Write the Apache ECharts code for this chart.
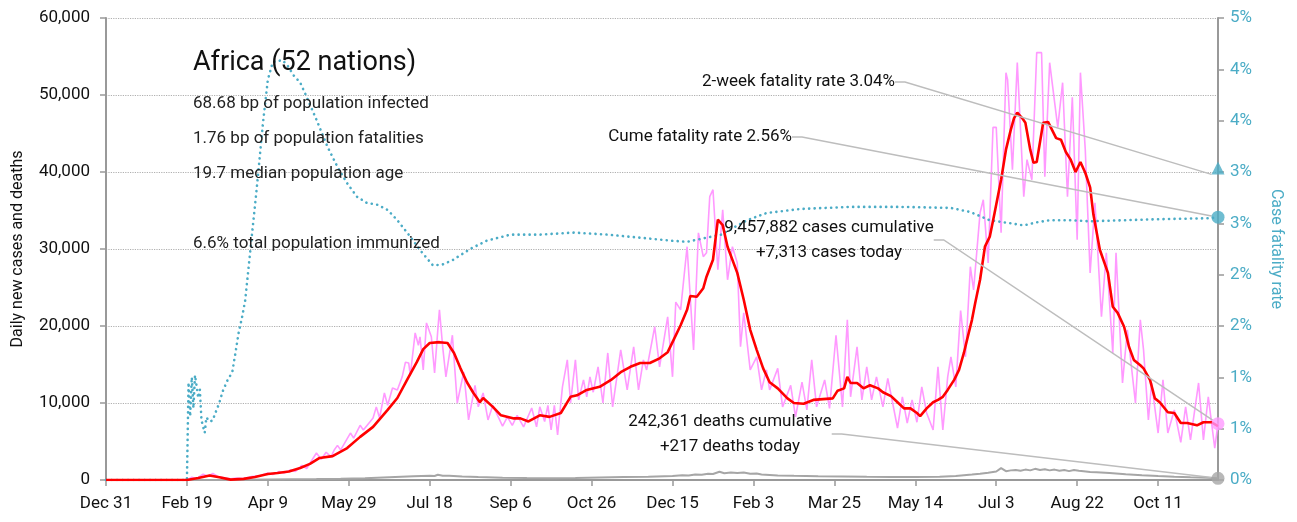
<!DOCTYPE html>
<html>
<head>
<meta charset="utf-8">
<script src="https://cdn.jsdelivr.net/npm/echarts@6/dist/echarts.min.js"></script>
<style>
  html, body { margin: 0; padding: 0; background: #fff; }
  #chart { width: 1297px; height: 522px; }
</style>
</head>
<body>
<div id="chart"></div>
<script>
// Africa COVID-19: daily cases, 7-day average, daily deaths and case fatality rate.
// x values are days counted from Dec 31, 2019.
const START_UTC = Date.UTC(2019, 11, 31);
const LAST_DAY = 687;
const MONTHS = ['Jan','Feb','Mar','Apr','May','Jun','Jul','Aug','Sep','Oct','Nov','Dec'];

const dailyCases = [[0,0],[50,0],[53,350],[56,200],[60,750],[63,500],[66,850],[69,450],[73,300],[77,150],[81,250],[85,200],[90,450],[95,550],[100,900],[103,700],[107,1100],[110,900],[114,1300],[117,1100],[121,1900],[124,1500],[127,2500],[130,3500],[133,2700],[136,3600],[139,3000],[141,3900],[143,4500],[145,3900],[151,6100],[153,5450],[157,7100],[159,6500],[165,8050],[167,9500],[169,8050],[172,11300],[174,9700],[177,11950],[180,11700],[183,13400],[185,15300],[187,15200],[188,13600],[191,19100],[193,17500],[194,18600],[196,14300],[198,20400],[201,18600],[203,13900],[205,19500],[206,22100],[208,17300],[210,13400],[214,18800],[217,10000],[221,14000],[224,7800],[228,12300],[230,9500],[233,11300],[236,7800],[239,9700],[245,7000],[248,8200],[251,7100],[254,8400],[258,6900],[263,9350],[266,6900],[268,9500],[271,7600],[273,9700],[275,6500],[277,9700],[279,5850],[282,12100],[285,15600],[287,10000],[290,15600],[292,10400],[295,13000],[297,10800],[299,13400],[301,11400],[304,14700],[307,10000],[310,16500],[313,9500],[318,16900],[322,11700],[326,17300],[329,11700],[332,15600],[334,14300],[339,19900],[342,14700],[347,21200],[350,13400],[352,23100],[355,22100],[359,30300],[363,16900],[366,32100],[369,29000],[371,29500],[373,36800],[375,37700],[378,27300],[381,35100],[384,26000],[387,30300],[390,28200],[392,17300],[394,21700],[398,14300],[402,16000],[405,11700],[408,14300],[410,11700],[415,14500],[418,9500],[423,12300],[426,8200],[430,12700],[433,9100],[436,15600],[439,9500],[444,13000],[447,9300],[451,18800],[455,9500],[458,20800],[460,10800],[464,17300],[467,10400],[470,14700],[473,10400],[476,13400],[480,9500],[483,13200],[486,10000],[489,6750],[492,10800],[495,7400],[498,10400],[501,7500],[504,12100],[507,8700],[511,6500],[514,14700],[517,6500],[520,13400],[522,16000],[525,12100],[528,22000],[531,16000],[534,27700],[536,24700],[540,34700],[542,36400],[545,28200],[548,45800],[550,45800],[553,32100],[556,52900],[557,52000],[560,40300],[563,54200],[567,36800],[569,41600],[572,39000],[575,55500],[578,55500],[580,39400],[583,54200],[588,45800],[591,51600],[594,36800],[597,49700],[600,31200],[602,52900],[605,42900],[608,26900],[611,36000],[615,21200],[618,29500],[622,16500],[624,29500],[628,12600],[631,19500],[636,10000],[639,20800],[641,16900],[644,7800],[646,12600],[650,6100],[653,13000],[656,6100],[660,9100],[664,4900],[667,9500],[670,5200],[675,12600],[678,5200],[681,10800],[685,4150],[687,7313]];

const weeklyAverage = [[0,0],[50,0],[57,250],[64,580],[70,350],[77,50],[85,150],[92,400],[100,780],[106,900],[113,1100],[120,1560],[126,2100],[132,2860],[140,3100],[149,4150],[157,5600],[165,6900],[174,9100],[180,10650],[186,13000],[192,15300],[196,17000],[200,17800],[206,17900],[211,17800],[215,16500],[219,14500],[223,12700],[227,11300],[231,10100],[233,10650],[239,9500],[244,8400],[252,8000],[256,8000],[261,7600],[268,8400],[274,8200],[281,8700],[287,10800],[291,11000],[297,11700],[305,12100],[312,13000],[318,14000],[324,14700],[330,15200],[336,15200],[342,15800],[347,16600],[350,17900],[355,20100],[359,22100],[361,23900],[365,23800],[369,24900],[371,26400],[375,28600],[378,33800],[381,33100],[384,30300],[390,26900],[394,23400],[398,19500],[402,16900],[406,14500],[410,12700],[415,11900],[421,10600],[425,10000],[431,9900],[437,10400],[443,10500],[449,10600],[452,11600],[456,11900],[458,13400],[460,12600],[464,12600],[468,11900],[472,12300],[477,11900],[480,11400],[485,10900],[489,10100],[493,9300],[497,9300],[501,8700],[503,8300],[507,9300],[511,10100],[514,10400],[517,10800],[520,11700],[524,13000],[527,14300],[530,16500],[533,19100],[535,20800],[537,23000],[540,26000],[543,30300],[546,31600],[549,34700],[553,39000],[556,42900],[559,45500],[561,47000],[563,47700],[566,47000],[568,46400],[571,42900],[573,41200],[575,41300],[579,46400],[582,46500],[583,46400],[587,44400],[590,44200],[593,42600],[596,41600],[599,40000],[602,41300],[605,39900],[608,38000],[610,34500],[614,29900],[619,26900],[622,22500],[625,21700],[629,19900],[632,17300],[635,15600],[639,14900],[641,14500],[645,13000],[648,10600],[651,10100],[656,8800],[660,8700],[664,7400],[668,7400],[674,7100],[678,7500],[683,7500],[687,7000]];

const dailyDeaths = [[0,0],[55,0],[70,10],[85,30],[100,60],[115,90],[130,120],[145,170],[160,240],[175,360],[190,480],[200,560],[203,520],[205,680],[208,540],[212,560],[220,470],[230,380],[245,300],[260,250],[275,230],[290,260],[305,330],[320,380],[335,430],[350,520],[356,620],[360,580],[364,720],[368,680],[372,800],[375,780],[379,1080],[382,880],[386,960],[390,900],[394,980],[398,800],[402,840],[405,720],[415,600],[425,540],[440,480],[455,450],[470,420],[485,400],[500,380],[515,420],[525,520],[535,700],[540,820],[545,950],[550,1100],[553,1550],[556,1150],[559,1250],[562,1300],[565,1200],[568,1350],[571,1250],[574,1450],[577,1300],[580,1400],[583,1250],[586,1350],[589,1200],[592,1300],[595,1150],[598,1300],[601,1200],[604,1150],[608,1050],[612,1000],[620,900],[630,750],[640,620],[650,520],[660,430],[670,350],[680,300],[687,217]];

// case fatality rate, percent
const fatalityRate = [[0,0],[50,0],[51,0.95],[52,0.62],[53,1.0],[54,0.7],[55,1.02],[56,1.03],[57,0.8],[58,0.88],[59,0.58],[60,0.52],[61,0.46],[62,0.61],[64,0.57],[66,0.58],[67,0.63],[70,0.75],[72,0.86],[75,0.97],[78,1.05],[80,1.24],[82,1.44],[84,1.58],[86,1.75],[89,2.21],[93,2.82],[97,3.48],[100,3.90],[103,4.07],[109,4.09],[112,4.04],[116,3.94],[120,3.87],[124,3.73],[130,3.51],[137,3.24],[143,3.05],[149,2.89],[155,2.76],[161,2.70],[168,2.68],[174,2.63],[180,2.53],[188,2.37],[194,2.24],[202,2.09],[208,2.10],[214,2.14],[221,2.21],[225,2.25],[235,2.33],[250,2.39],[268,2.39],[289,2.41],[310,2.39],[330,2.36],[350,2.33],[359,2.32],[371,2.36],[380,2.39],[388,2.46],[396,2.53],[408,2.60],[429,2.64],[460,2.66],[491,2.66],[522,2.65],[534,2.61],[546,2.53],[559,2.50],[567,2.48],[575,2.51],[583,2.53],[596,2.53],[608,2.52],[629,2.53],[650,2.54],[682,2.55],[687,2.56]];

const twoWeekRate = 3.04;
const cumeRate = 2.56;
const casesCumulative = 9457882;
const casesToday = 7313;
const deathsCumulative = 242361;
const deathsToday = 217;

const infoLines = [
  '68.68 bp of population infected',
  '1.76 bp of population fatalities',
  '19.7 median population age',
  '',
  '6.6% total population immunized'
];

const FONT = "Roboto, 'Liberation Sans', sans-serif";
const TEAL = '#4bacc6';
const PINK = '#ff99ff';
const GREY = '#a6a6a6';
const LEADER = '#bdbdbd';
const INK = '#111';

const fmt = n => n.toLocaleString('en-US');
const dayLabel = v => {
  const d = new Date(START_UTC + v * 86400000);
  return MONTHS[d.getUTCMonth()] + ' ' + d.getUTCDate();
};

const leader = { show: true, length2: 10, lineStyle: { color: LEADER, width: 1.5, opacity: 1 } };
const annoLabel = {
  show: true, color: INK, opacity: 1, fontFamily: FONT, fontSize: 17, lineHeight: 25,
  textBorderWidth: 0, textShadowBlur: 0
};

const chart = echarts.init(document.getElementById('chart'), null, { renderer: 'canvas' });

chart.setOption({
  animation: false,
  backgroundColor: '#fff',
  textStyle: { fontFamily: FONT },
  grid: { left: 106, right: 79, top: 18, bottom: 42, containLabel: false, outerBoundsMode: 'none' },
  xAxis: {
    type: 'value', min: 0, max: LAST_DAY, interval: 50,
    axisLine: { show: true, lineStyle: { color: '#999', width: 2 } },
    axisTick: { show: true, length: 6, lineStyle: { color: '#999', width: 1.5 } },
    axisLabel: {
      showMaxLabel: false, margin: 15, color: INK, fontSize: 17, fontFamily: FONT,
      formatter: v => (v % 50 === 0 ? dayLabel(v) : '')
    },
    splitLine: { show: false }
  },
  yAxis: [
    {
      type: 'value', min: 0, max: 60000, interval: 10000,
      name: 'Daily new cases and deaths', nameLocation: 'middle', nameGap: 80, nameRotate: 90,
      nameTextStyle: { color: INK, fontSize: 16, fontFamily: FONT },
      axisLine: { show: true, lineStyle: { color: '#999', width: 2 } },
      axisTick: { show: true, length: 6, lineStyle: { color: '#999', width: 1.5 } },
      axisLabel: { margin: 16, color: INK, fontSize: 17, fontFamily: FONT, formatter: v => fmt(v) },
      splitLine: { show: true, lineStyle: { color: '#b0b0b0', type: 'dotted', width: 1.2 } }
    },
    {
      type: 'value', min: 0, max: 4.5, interval: 0.5, position: 'right',
      name: 'Case fatality rate', nameLocation: 'middle', nameGap: 50, nameRotate: -90,
      nameTextStyle: { color: TEAL, fontSize: 16, fontFamily: FONT },
      axisLine: { show: true, lineStyle: { color: '#999', width: 2 } },
      axisTick: { show: true, length: 6, lineStyle: { color: '#999', width: 1.5 } },
      axisLabel: { margin: 12, color: TEAL, fontSize: 17, fontFamily: FONT, formatter: v => Math.round(v) + '%' },
      splitLine: { show: false }
    }
  ],
  series: [
    {
      name: 'Daily cases', type: 'line', data: dailyCases, showSymbol: false, silent: true,
      lineStyle: { color: PINK, width: 1.6 }, z: 2
    },
    {
      name: 'Case fatality rate', type: 'line', yAxisIndex: 1, data: fatalityRate, showSymbol: false, silent: true,
      lineStyle: { color: TEAL, width: 2.6, type: [0.1, 5.4], cap: 'round' }, z: 3
    },
    {
      name: 'Daily deaths', type: 'line', data: dailyDeaths, showSymbol: false, silent: true,
      lineStyle: { color: GREY, width: 2 }, z: 4
    },
    {
      name: '7-day average', type: 'line', data: weeklyAverage, showSymbol: false, silent: true,
      lineStyle: { color: '#ff0000', width: 2.6 }, z: 5
    },
    {
      name: 'Two-week rate', type: 'scatter', yAxisIndex: 1, z: 6, silent: true,
      symbol: 'triangle', symbolSize: 13, itemStyle: { color: TEAL },
      data: [[LAST_DAY, twoWeekRate]],
      label: Object.assign({}, annoLabel, { formatter: '2-week fatality rate ' + twoWeekRate.toFixed(2) + '%' }),
      labelLayout: { x: 895, y: 82, align: 'right', verticalAlign: 'middle' },
      labelLine: leader
    },
    {
      name: 'Cume rate', type: 'scatter', yAxisIndex: 1, z: 6, silent: true,
      symbol: 'circle', symbolSize: 13, itemStyle: { color: TEAL },
      data: [[LAST_DAY, cumeRate]],
      label: Object.assign({}, annoLabel, { formatter: 'Cume fatality rate ' + cumeRate.toFixed(2) + '%' }),
      labelLayout: { x: 792, y: 137, align: 'right', verticalAlign: 'middle' },
      labelLine: leader
    },
    {
      name: 'Cases today', type: 'scatter', z: 6, silent: true,
      symbol: 'circle', symbolSize: 13, itemStyle: { color: PINK },
      data: [[LAST_DAY, casesToday]],
      label: Object.assign({}, annoLabel, {
        align: 'center',
        formatter: fmt(casesCumulative) + ' cases cumulative\n+' + fmt(casesToday) + ' cases today'
      }),
      labelLayout: { x: 829, y: 240, align: 'center', verticalAlign: 'middle' },
      labelLine: leader
    },
    {
      name: 'Deaths today', type: 'scatter', z: 6, silent: true,
      symbol: 'circle', symbolSize: 13, itemStyle: { color: GREY },
      data: [[LAST_DAY, deathsToday]],
      label: Object.assign({}, annoLabel, {
        align: 'center',
        formatter: fmt(deathsCumulative) + ' deaths cumulative\n+' + fmt(deathsToday) + ' deaths today'
      }),
      labelLayout: { x: 730, y: 434, align: 'center', verticalAlign: 'middle' },
      labelLine: leader
    }
  ],
  graphic: [
    {
      type: 'text', left: 193, top: 50, z: 10,
      style: { text: 'Africa (52 nations)', fill: INK, font: '27px ' + FONT }
    },
    {
      type: 'text', left: 193, top: 86, z: 10,
      style: { text: infoLines.join('\n'), fill: '#222', font: '17px ' + FONT, lineHeight: 35 }
    }
  ]
});
</script>
</body>
</html>
